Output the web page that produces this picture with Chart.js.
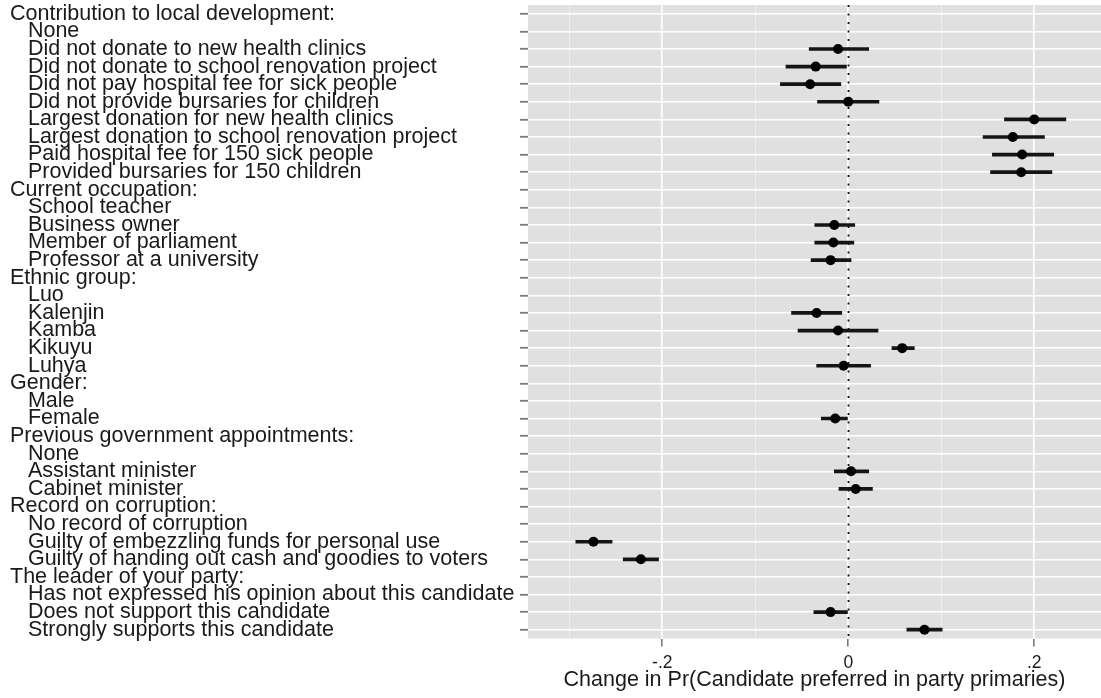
<!DOCTYPE html>
<html>
<head>
<meta charset="utf-8">
<title>Candidate attributes and party primaries</title>
<script src="https://cdn.jsdelivr.net/npm/chart.js@4/dist/chart.umd.min.js"></script>
<style>
  html, body { margin: 0; padding: 0; background: #ffffff; }
  #wrap { width: 1101px; height: 698px; }
  canvas { display: block; }
</style>
</head>
<body>
<div id="wrap"><canvas id="chart" width="1101" height="698"></canvas></div>
<script>
// Attribute levels, top to bottom. Group headings end with a colon.
const rowLabels = [
  "Contribution to local development:",
  "None",
  "Did not donate to new health clinics",
  "Did not donate to school renovation project",
  "Did not pay hospital fee for sick people",
  "Did not provide bursaries for children",
  "Largest donation for new health clinics",
  "Largest donation to school renovation project",
  "Paid hospital fee for 150 sick people",
  "Provided bursaries for 150 children",
  "Current occupation:",
  "School teacher",
  "Business owner",
  "Member of parliament",
  "Professor at a university",
  "Ethnic group:",
  "Luo",
  "Kalenjin",
  "Kamba",
  "Kikuyu",
  "Luhya",
  "Gender:",
  "Male",
  "Female",
  "Previous government appointments:",
  "None",
  "Assistant minister",
  "Cabinet minister",
  "Record on corruption:",
  "No record of corruption",
  "Guilty of embezzling funds for personal use",
  "Guilty of handing out cash and goodies to voters",
  "The leader of your party:",
  "Has not expressed his opinion about this candidate",
  "Does not support this candidate",
  "Strongly supports this candidate"
];

// Estimated change in probability (null for headings and baseline levels)
const estimates = [
  null, null, -0.011, -0.035, -0.041, 0.000, 0.200, 0.177, 0.187, 0.186,
  null, null, -0.015, -0.016, -0.019,
  null, null, -0.034, -0.011, 0.058, -0.005,
  null, null, -0.014,
  null, null, 0.003, 0.008,
  null, null, -0.274, -0.223,
  null, null, -0.019, 0.082
];

// Lower end of the confidence interval
const ciLower = [
  null, null, -0.042, -0.067, -0.073, -0.033, 0.168, 0.145, 0.155, 0.153,
  null, null, -0.036, -0.036, -0.040,
  null, null, -0.061, -0.054, 0.047, -0.034,
  null, null, -0.029,
  null, null, -0.015, -0.010,
  null, null, -0.293, -0.242,
  null, null, -0.037, 0.063
];

// Upper end of the confidence interval
const ciUpper = [
  null, null, 0.022, -0.002, -0.008, 0.033, 0.234, 0.211, 0.221, 0.219,
  null, null, 0.007, 0.006, 0.003,
  null, null, -0.007, 0.032, 0.071, 0.024,
  null, null, 0.000,
  null, null, 0.022, 0.026,
  null, null, -0.254, -0.204,
  null, null, 0.000, 0.101
];

// Horizontal axis ticks: labelled ones are major gridlines, the rest minor
const xTickValues = [-0.3, -0.2, -0.1, 0, 0.1, 0.2];
const xTickLabels = ["", "-.2", "", "0", "", ".2"];
const xAxisTitle = "Change in Pr(Candidate preferred in party primaries)";

Chart.defaults.font.family = "'Liberation Sans', Arial, Helvetica, sans-serif";

const intervals = rowLabels.map((_, i) =>
  ciLower[i] === null ? null : [ciLower[i], ciUpper[i]]
);

const isMajorX = (i) => xTickLabels[i] !== "";

// Grey panel behind the plotting region
const panelBackground = {
  id: "panelBackground",
  beforeDraw(chart) {
    const { ctx, chartArea: a } = chart;
    ctx.save();
    ctx.fillStyle = "#e0e0e0";
    ctx.fillRect(a.left, a.top, a.right - a.left, a.bottom - a.top);
    ctx.restore();
  }
};

// Dotted reference line at zero effect
const zeroLine = {
  id: "zeroLine",
  beforeDatasetsDraw(chart) {
    const { ctx, chartArea: a, scales } = chart;
    const x = Math.round(scales.x.getPixelForValue(0)) + 0.5;
    ctx.save();
    ctx.strokeStyle = "#111111";
    ctx.lineWidth = 1.8;
    ctx.setLineDash([2, 6.5]);
    ctx.beginPath();
    ctx.moveTo(x, a.top);
    ctx.lineTo(x, a.bottom);
    ctx.stroke();
    ctx.restore();
  }
};

new Chart(document.getElementById("chart"), {
  type: "bar",
  data: {
    labels: rowLabels,
    datasets: [
      {
        type: "bar",
        data: intervals,
        backgroundColor: "#151515",
        borderWidth: 0,
        barThickness: 3,
        grouped: false,
        order: 2
      },
      {
        type: "line",
        data: estimates,
        showLine: false,
        pointRadius: 5,
        pointBackgroundColor: "#000000",
        pointBorderWidth: 0,
        order: 1
      }
    ]
  },
  options: {
    indexAxis: "y",
    responsive: false,
    animation: false,
    events: [],
    layout: { autoPadding: false, padding: { left: 10, top: 5, right: 0, bottom: 0 } },
    plugins: {
      legend: { display: false },
      tooltip: { enabled: false }
    },
    scales: {
      x: {
        type: "linear",
        min: -0.3444,
        max: 0.2718,
        afterBuildTicks(scale) {
          scale.ticks = xTickValues.map((v) => ({ value: v }));
        },
        afterFit(scale) {
          scale.height = 59.5;
          scale.paddingLeft = 0;
          scale.paddingRight = 0;
        },
        border: { display: false },
        grid: {
          color: (c) => (isMajorX(c.index) ? "#ffffff" : "#efefef"),
          lineWidth: (c) => (isMajorX(c.index) ? 1.6 : 0.9),
          tickColor: (c) => (isMajorX(c.index) ? "#7a7a7a" : "rgba(0,0,0,0)"),
          tickLength: 8,
          tickWidth: 1.6
        },
        ticks: {
          autoSkip: false,
          maxRotation: 0,
          padding: 6,
          color: "#1a1a1a",
          font: { size: 17.5 },
          callback: (v, i) => xTickLabels[i]
        },
        title: {
          display: true,
          text: xAxisTitle,
          color: "#1a1a1a",
          font: { size: 21.5 },
          padding: { top: 0, bottom: 5 }
        }
      },
      y: {
        type: "category",
        offset: true,
        afterFit(scale) {
          scale.width = 518;
          scale.paddingTop = 0;
          scale.paddingBottom = 0;
        },
        border: { display: false },
        grid: {
          offset: false,
          color: "#ffffff",
          lineWidth: 1.6,
          tickColor: "#7a7a7a",
          tickLength: 8,
          tickWidth: 1.8
        },
        ticks: {
          autoSkip: false,
          crossAlign: "far",
          color: "#1a1a1a",
          font: { size: 21.5 },
          callback: (v, i) => {
            const label = rowLabels[i];
            return label.endsWith(":") ? label : "   " + label;
          }
        }
      }
    }
  },
  plugins: [panelBackground, zeroLine]
});
</script>
</body>
</html>
